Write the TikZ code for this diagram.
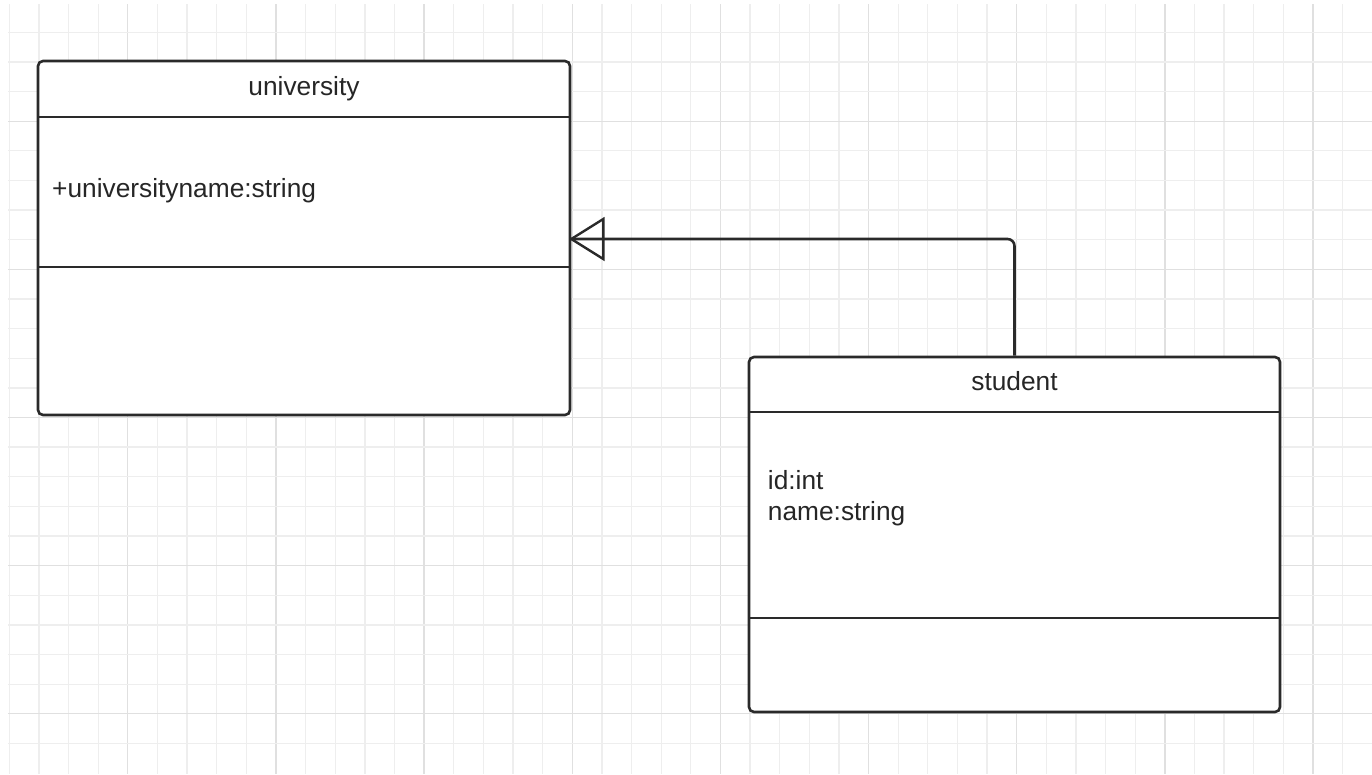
\documentclass[tikz,border=0pt]{standalone}
\usepackage{fontspec}
\setmainfont{Liberation Sans}
\usetikzlibrary{calc}
\definecolor{gridlight}{HTML}{EEEEEE}
\definecolor{griddark}{HTML}{E0E0E0}
\definecolor{ink}{HTML}{2A2A2A}
\tikzset{
  umlbox/.style={draw=ink, line width=2.6pt, fill=white, rounded corners=5pt, inner sep=0pt},
  sepline/.style={draw=ink, line width=2.6pt},
  conn/.style={draw=ink, line width=2.6pt, rounded corners=7pt},
  head/.style={draw=ink, line width=2.4pt, fill=none, line join=miter},
  lbl/.style={font=\fontsize{26.3pt}{31pt}\selectfont, text=black!85, inner sep=0pt},
  gridl/.style={draw=gridlight, line width=1.3pt},
  gridd/.style={draw=griddark, line width=1.3pt}
}
\begin{document}
\begin{tikzpicture}[x=1pt,y=-1pt]
\fill[white] (0,0) rectangle (1372,774);
\useasboundingbox (0,0) rectangle (1372,774);
% grid
\foreach \k in {0,...,46}{
  \pgfmathsetmacro{\xx}{9.3+29.63*\k}
  \pgfmathtruncatemacro{\m}{mod(\k,5)}
  \ifnum\m=4 \draw[gridd] (\xx,4) -- (\xx,774); \else \draw[gridl] (\xx,4) -- (\xx,774); \fi
}
\foreach \k in {0,...,24}{
  \pgfmathsetmacro{\yy}{32.3+29.63*\k}
  \pgfmathtruncatemacro{\m}{mod(\k,5)}
  \ifnum\m=3 \draw[gridd] (8,\yy) -- (1372,\yy); \else \draw[gridl] (8,\yy) -- (1372,\yy); \fi
}
% university class
\node[umlbox, minimum width=532pt, minimum height=354pt] (univ) at (304,238) {};
\coordinate (u1) at (38,117);
\coordinate (u2) at (38,267);
\draw[sepline] (u1) -- (u1 -| univ.east);
\draw[sepline] (u2) -- (u2 -| univ.east);
\node[lbl, anchor=base] (uname) at (304,95) {university};
\node[lbl, anchor=base west] (uattr) at (52,197) {+universityname:string};
% student class
\node[umlbox, minimum width=531pt, minimum height=355pt] (stud) at (1014.5,534.5) {};
\coordinate (s1) at (749,412);
\coordinate (s2) at (749,618);
\draw[sepline] (s1) -- (s1 -| stud.east);
\draw[sepline] (s2) -- (s2 -| stud.east);
\node[lbl, anchor=base] (sname) at (1014.5,390) {student};
\node[lbl, anchor=base west] (sattr1) at (767.7,489) {id:int};
\node[lbl, anchor=base west] (sattr2) at (767.7,520) {name:string};
% inheritance connector
\coordinate (tip) at ($(univ.east)+(0,1)$);
\draw[conn] (stud.north) |- (tip);
\draw[head] (tip) -- ++(32,-20) -- ++(0,40) -- cycle;
\end{tikzpicture}
\end{document}
